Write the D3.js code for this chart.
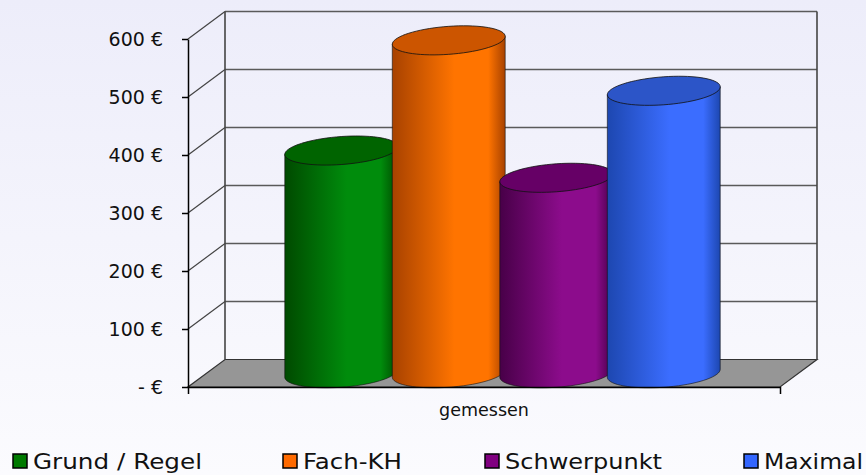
<!DOCTYPE html>
<html>
<head>
<meta charset="utf-8">
<script src="https://cdn.jsdelivr.net/npm/d3@7"></script>
<style>
  body { margin: 0; background: #f4f4fb; }
  svg { display: block; font-family: "DejaVu Sans", Verdana, sans-serif; }
</style>
</head>
<body>
<script>
var categories = ["gemessen"];
var series = ["Grund / Regel", "Fach-KH", "Schwerpunkt", "Maximal"];
var values = [384, 574, 337, 487];
var yTicks = [0, 100, 200, 300, 400, 500, 600];

var w = 866, h = 475;
var depthX = 37, depthY = -27.5;

var colors = {
    "Grund / Regel": {dark: "#004a00", mid: "#008c0c", top: "#006400", legend: "#007a00"},
    "Fach-KH": {dark: "#a84200", mid: "#ff7400", top: "#cc5500", legend: "#ff6a00"},
    "Schwerpunkt": {dark: "#480048", mid: "#8c0c8c", top: "#660066", legend: "#800080"},
    "Maximal": {dark: "#1d47b0", mid: "#3b6dff", top: "#2c55c8", legend: "#3366ff"}
};

var svg = d3.select("body")
            .append("svg")
            .attr("width", w)
            .attr("height", h);

var defs = svg.append("defs");

var bg = defs.append("linearGradient")
             .attr("id", "bg")
             .attr("x1", 0).attr("y1", 0).attr("x2", 0).attr("y2", 1);
bg.append("stop").attr("offset", 0).attr("stop-color", "#ededfa");
bg.append("stop").attr("offset", 1).attr("stop-color", "#fbfbfe");

series.forEach(function(s, i) {
    var g = defs.append("linearGradient")
                .attr("id", "cyl" + i)
                .attr("x1", 0).attr("y1", 0).attr("x2", 1).attr("y2", 0);
    g.append("stop").attr("offset", 0).attr("stop-color", colors[s].dark);
    g.append("stop").attr("offset", 0.55).attr("stop-color", colors[s].mid);
    g.append("stop").attr("offset", 0.85).attr("stop-color", colors[s].mid);
    g.append("stop").attr("offset", 1).attr("stop-color", colors[s].dark);
});

svg.append("rect")
    .attr("width", w)
    .attr("height", h)
    .attr("fill", "url(#bg)");

var yScale = d3.scaleLinear()
                .domain([0, 600])
                .range([387, 39]);

var x0 = d3.scaleBand()
            .domain(categories)
            .range([188, 780]);

var x1 = d3.scaleBand()
            .domain(series)
            .range([0, x0.bandwidth()])
            .paddingInner(0)
            .paddingOuter(0.753);

var left = 188, right = 780;

// floor
svg.append("path")
    .attr("d", "M" + left + "," + yScale(0) +
               "L" + right + "," + yScale(0) +
               "L" + (right + depthX) + "," + (yScale(0) + depthY) +
               "L" + (left + depthX) + "," + (yScale(0) + depthY) + "Z")
    .attr("fill", "#969696")
    .attr("stroke", "#333")
    .attr("stroke-width", 1.2);

// gridlines on back and side wall
var grid = svg.append("g");
grid.selectAll("line.back")
    .data(yTicks.filter(d => d > 0))
    .enter()
    .append("line")
    .attr("class", "back")
    .attr("x1", left + depthX)
    .attr("x2", right + depthX)
    .attr("y1", d => yScale(d) + depthY)
    .attr("y2", d => yScale(d) + depthY)
    .attr("stroke", "#5a5a5a")
    .attr("stroke-width", 1.4);

grid.selectAll("line.side")
    .data(yTicks.filter(d => d > 0))
    .enter()
    .append("line")
    .attr("class", "side")
    .attr("x1", left)
    .attr("x2", left + depthX)
    .attr("y1", d => yScale(d))
    .attr("y2", d => yScale(d) + depthY)
    .attr("stroke", "#444")
    .attr("stroke-width", 1.2);

[left + depthX, right + depthX].forEach(function(x) {
    grid.append("line")
        .attr("x1", x).attr("x2", x)
        .attr("y1", yScale(600) + depthY)
        .attr("y2", yScale(0) + depthY)
        .attr("stroke", "#444")
        .attr("stroke-width", 1.6);
});

// cylinders
var ry = 14, skew = 0.07;

var ellipsePoint = function(cx, cy, rx, t) {
    return [cx + rx * Math.cos(t), cy + ry * Math.sin(t) - rx * Math.cos(t) * skew];
};

var ellipsePath = function(cx, cy, rx) {
    var pts = d3.range(0, 73).map(k => ellipsePoint(cx, cy, rx, k / 72 * 2 * Math.PI));
    return d3.line()(pts) + "Z";
};

var bodyPath = function(cx, cyTop, cyBot, rx) {
    var pts = [];
    pts.push(ellipsePoint(cx, cyTop, rx, Math.PI));
    d3.range(0, 37).forEach(function(k) {
        pts.push(ellipsePoint(cx, cyBot, rx, Math.PI - k / 36 * Math.PI));
    });
    pts.push(ellipsePoint(cx, cyTop, rx, 0));
    return d3.line()(pts) + "Z";
};

var cylGroup = svg.append("g");
var data = series.map((s, i) => ({key: s, value: values[i], idx: i}));

data.forEach(function(d) {
    var cx = x0(categories[0]) + x1(d.key) + x1.bandwidth() / 2 + depthX / 2;
    var rx = x1.bandwidth() * 1.05 / 2;
    var cyTop = yScale(d.value) + depthY / 2;
    var cyBot = yScale(0) + depthY / 2;
    var g = cylGroup.append("g");
    g.append("path")
        .attr("d", bodyPath(cx, cyTop, cyBot, rx))
        .attr("fill", "url(#cyl" + d.idx + ")")
        .attr("stroke", "#111")
        .attr("stroke-opacity", 0.6)
        .attr("stroke-width", 1);
    g.append("path")
        .attr("d", ellipsePath(cx, cyTop, rx))
        .attr("fill", colors[d.key].top)
        .attr("stroke", "#111")
        .attr("stroke-opacity", 0.8)
        .attr("stroke-width", 1);
});

// axes
var yAxis = d3.axisLeft()
            .scale(yScale)
            .tickValues(yTicks)
            .tickSizeInner(6)
            .tickSizeOuter(0)
            .tickPadding(19)
            .tickFormat(d => d === 0 ? "- €" : d + " €");

var yAxisG = svg.append("g")
    .attr("transform", "translate(" + left + ",0)")
    .call(yAxis);
yAxisG.selectAll("text")
    .attr("font-size", 19)
    .attr("font-family", "DejaVu Sans, Verdana, sans-serif")
    .attr("fill", "#111");
yAxisG.selectAll("line, path").attr("stroke", "#000").attr("stroke-width", 1.5);

var xAxis = d3.axisBottom()
            .scale(x0)
            .tickSizeInner(0)
            .tickSizeOuter(7)
            .tickPadding(17);

var xAxisG = svg.append("g")
    .attr("transform", "translate(0," + yScale(0) + ")")
    .call(xAxis);
xAxisG.selectAll("text")
    .attr("font-size", 17.5)
    .attr("font-family", "DejaVu Sans, Verdana, sans-serif")
    .attr("fill", "#111");
xAxisG.selectAll("line, path").attr("stroke", "#000").attr("stroke-width", 1.5);

// legend
var legendX = [13, 283, 485, 744];
var legendW = [169, 99, 157, 99];
var legend = svg.append("g");
data.forEach(function(d, i) {
    legend.append("rect")
        .attr("x", legendX[i])
        .attr("y", 454)
        .attr("width", 14)
        .attr("height", 14)
        .attr("fill", colors[d.key].legend)
        .attr("stroke", "#000")
        .attr("stroke-width", 1.5);
    legend.append("text")
        .attr("x", legendX[i] + 20)
        .attr("y", 469)
        .attr("font-size", 21)
        .attr("textLength", legendW[i])
        .attr("lengthAdjust", "spacingAndGlyphs")
        .attr("fill", "#111")
        .text(d.key);
});
</script>
</body>
</html>
